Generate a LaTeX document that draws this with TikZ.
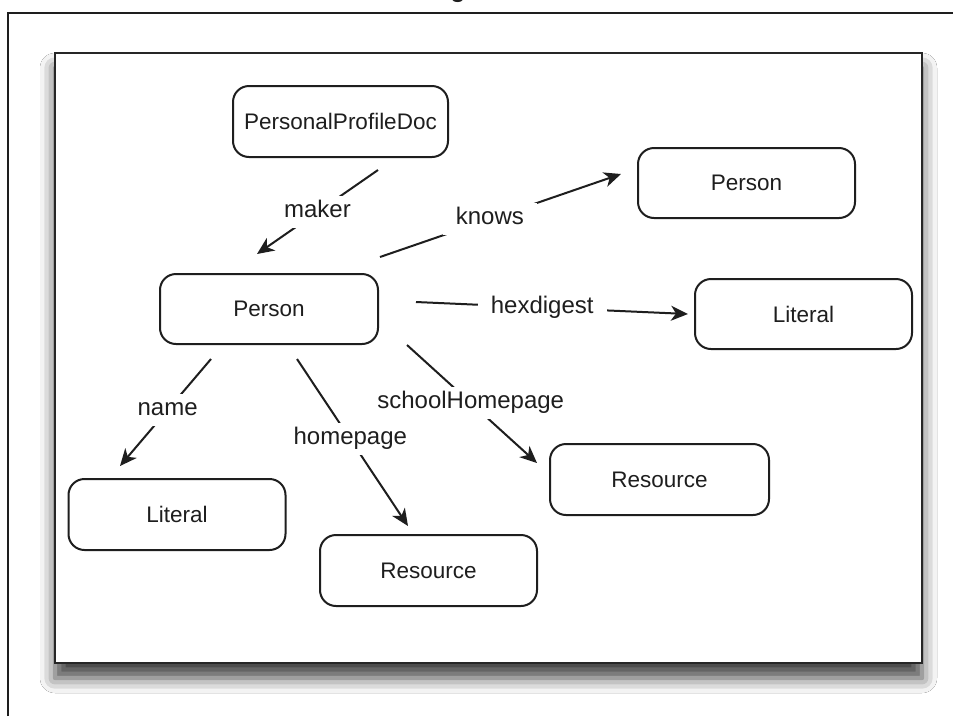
\documentclass[tikz,border=0pt]{standalone}
\usepackage{fontspec}
\setmainfont{Liberation Sans}
\usetikzlibrary{arrows.meta,shadows.blur}
\definecolor{ink}{HTML}{1E1E1E}
\begin{document}
\begin{tikzpicture}[x=1pt,y=-1pt,
  every node/.style={text=ink},
  entity/.style={draw=ink, line width=2pt, rounded corners=16pt, fill=white,
    minimum width=217pt, minimum height=70pt, inner sep=0pt,
    font=\fontsize{22.5}{27}\selectfont},
  rel/.style={draw=ink, line width=2pt,
    -{Stealth[length=17pt,width=15pt,inset=5pt]}},
  edgelabel/.style={fill=white, inner xsep=13pt, inner ysep=5.5pt,
    text height=16pt, text depth=5pt,
    font=\fontsize{24}{29}\selectfont}]
\useasboundingbox (0,0) rectangle (953,716);
\fill[white] (0,0) rectangle (953,716);

% page frame and the tail of the title above it
\node[anchor=base, inner sep=0pt, font=\bfseries\fontsize{24}{28}\selectfont] (title) at (458,-2.5) {g};
\draw[line width=2pt, ink] (8,716) -- (8,13) -- (953,13);

% framed panel with soft shadow
\path[fill=white, draw=black!85, line width=2.5pt,
  blur shadow={shadow xshift=0pt, shadow yshift=-15pt,
    shadow blur radius=15pt, shadow opacity=75}]
  (55,53) rectangle (922,663);

% entities
\node[entity, minimum width=215pt, minimum height=71pt] (ppd) at (340.5,121.5) {PersonalProfileDoc};
\node[entity] (p2)   at (746.5,183)   {Person};
\node[entity, minimum width=218pt] (p1) at (269,309) {Person};
\node[entity] (litR) at (803.5,314)   {Literal};
\node[entity, minimum height=71pt] (litL) at (177,514.5) {Literal};
\node[entity, minimum width=219pt, minimum height=71pt] (resR) at (659.5,479.5) {Resource};
\node[entity, minimum height=71pt] (resB) at (428.5,570.5) {Resource};

% connector end points
\coordinate (maker-s)  at (378,170);  \coordinate (maker-t)  at (257,254);
\coordinate (knows-s)  at (380,257);  \coordinate (knows-t)  at (621,174);
\coordinate (hex-s)    at (416,302);  \coordinate (hex-t)    at (688,314);
\coordinate (name-s)   at (211,359);  \coordinate (name-t)   at (120,466);
\coordinate (home-s)   at (297,359);  \coordinate (home-t)   at (408,526);
\coordinate (school-s) at (407,345);  \coordinate (school-t) at (537,463);

% relations
\draw[rel] (maker-s)  -- node[edgelabel, pos=0.5]  (lmaker)  {maker} (maker-t);
\draw[rel] (knows-s)  -- node[edgelabel, pos=0.456] (lknows) {knows} (knows-t);
\draw[rel] (hex-s)    -- node[edgelabel, pos=0.464] (lhex)   {hexdigest} (hex-t);
\draw[rel] (name-s)   -- node[edgelabel, pos=0.477] (lname)  {name} (name-t);
\draw[rel] (home-s)   -- node[edgelabel, pos=0.48]  (lhome)  {homepage} (home-t);
\draw[rel] (school-s) -- node[edgelabel, pos=0.49]  (lschool) {schoolHomepage} (school-t);
\end{tikzpicture}
\end{document}
